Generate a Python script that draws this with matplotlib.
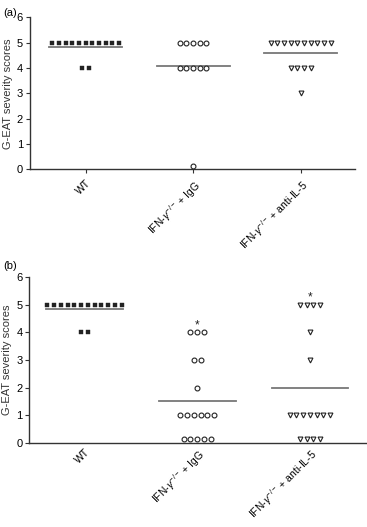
import matplotlib
matplotlib.use("Agg")
import matplotlib.pyplot as plt
import numpy as np

plt.rcParams['font.family'] = ['Liberation Sans', 'DejaVu Sans']
plt.rcParams['mathtext.fontset'] = 'custom'
plt.rcParams['mathtext.rm'] = 'Liberation Sans'
plt.rcParams['mathtext.it'] = 'Liberation Sans:italic'

categories = ['WT', r'IFN-$\gamma^{-/-}$ + IgG', r'IFN-$\gamma^{-/-}$ + anti-IL-5']

# panel (a): scores per group as (score, count)
a_wt = [(5, 11), (4, 2)]
a_igg = [(5, 5), (4, 5), (0, 1)]
a_il5 = [(5, 10), (4, 4), (3, 1)]

# panel (b)
b_wt = [(5, 12), (4, 2)]
b_igg = [(4, 3), (3, 2), (2, 1), (1, 6), (0, 5)]
b_il5 = [(5, 4), (4, 1), (3, 1), (1, 7), (0, 4)]

b_star_groups = [1, 2]

markers = ['s', 'o', 'v']
facecolors = ['#222222', 'white', 'white']
zero_floor = 0.15  # zero scores are drawn just above the axis

fig = plt.figure(figsize=(3.67, 5.27), dpi=100)
ax_a = fig.add_axes([0.0817, 0.6787, 0.967 - 0.0817, 0.2884])
ax_b = fig.add_axes([0.080, 0.1594, 0.998 - 0.080, 0.315])


def draw(ax, groups, spacing, xlim, stars=()):
    for gi, grp in enumerate(groups):
        allv = []
        for score, cnt in grp:
            allv += [score] * cnt
            offs = (np.arange(cnt) - (cnt - 1) / 2) * spacing
            yy = np.full(cnt, max(score, zero_floor))
            if markers[gi] == 's':
                ms, mew = 3.1, 0.3
            else:
                ms, mew = 3.5, 0.8
            ax.plot(gi + offs, yy, linestyle='none', marker=markers[gi],
                    markersize=ms,
                    markerfacecolor=facecolors[gi], markeredgecolor='#222222',
                    markeredgewidth=mew, clip_on=False, zorder=3)
        m = np.mean(allv)
        ax.plot([gi - 0.34, gi + 0.34], [m, m], color='#777777', lw=1.3, zorder=2)
        if gi in stars:
            top = max(s for s, c in grp)
            ax.text(gi, top + 0.25, '*', ha='center', va='center', fontsize=8.5, color='#222222')
    ax.set_ylim(0, 6)
    ax.set_xlim(*xlim)
    ax.set_yticks(range(7))
    ax.set_xticks(range(3))
    ax.set_xticklabels(categories, rotation=45, ha='right', rotation_mode='anchor', fontsize=7.5)
    for s in ['top', 'right']:
        ax.spines[s].set_visible(False)
    for s in ['left', 'bottom']:
        ax.spines[s].set_color('#333333')
        ax.spines[s].set_linewidth(1.0)
    ax.tick_params(axis='y', labelsize=8, length=3, width=0.8, color='#333333', pad=2)
    ax.tick_params(axis='x', length=3, width=0.8, color='#333333', pad=3)
    ax.set_ylabel('G-EAT severity scores', fontsize=8, labelpad=3, color='#333333')


draw(ax_a, [a_wt, a_igg, a_il5], 0.062, (-0.518, 2.505))
draw(ax_b, [b_wt, b_igg, b_il5], 0.060, (-0.49, 2.5), stars=b_star_groups)
ax_b.tick_params(axis='x', length=0)

fig.text(0.008, 0.985, '(a)', fontsize=8, va='top', ha='left')
fig.text(0.008, 0.505, '(b)', fontsize=8, va='top', ha='left')

fig.savefig('out.png', dpi=100)
